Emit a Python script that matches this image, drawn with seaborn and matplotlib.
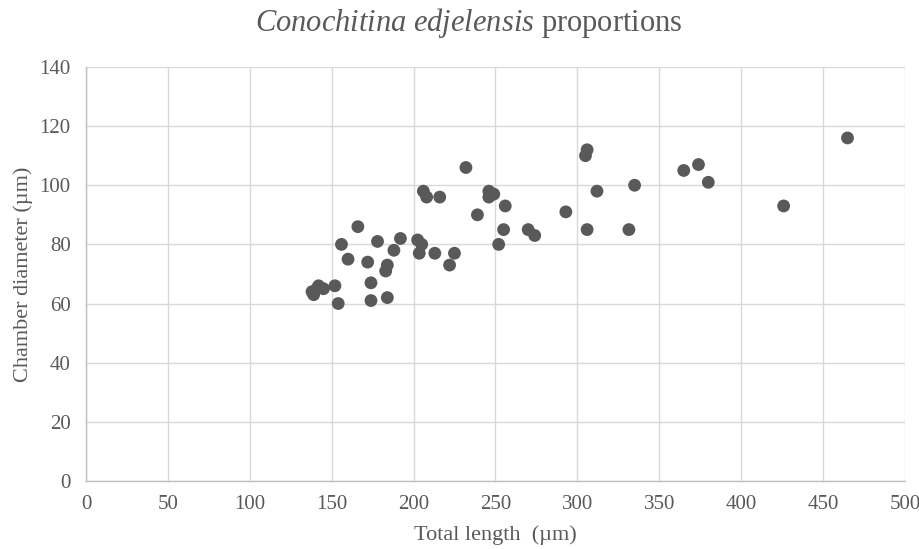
import matplotlib
matplotlib.use("Agg")
import pandas as pd
import matplotlib.pyplot as plt
import seaborn as sns

# Values (µm)
total_length = [138, 139, 142, 145, 141, 152, 154, 156, 160, 166,
                172, 174, 174, 178, 183, 184, 184, 188, 192, 202.5,
                205, 203.5, 206, 208, 213, 216, 222, 225, 232, 239,
                246, 246, 249, 252, 255, 256, 270, 274, 293, 305,
                306, 306, 312, 331.5, 335, 365, 374, 380, 426, 465]
chamber_diam = [64, 63, 66, 65, 65, 66, 60, 80, 75, 86,
                74, 67, 61, 81, 71, 73, 62, 78, 82, 81.5,
                80, 77, 98, 96, 77, 96, 73, 77, 106, 90,
                98, 96, 97, 80, 85, 93, 85, 83, 91, 110,
                112, 85, 98, 85, 100, 105, 107, 101, 93, 116]

df = pd.DataFrame({"length": total_length, "diameter": chamber_diam})

sns.set_theme(style="white")
plt.rcParams['font.family'] = ['Liberation Serif', 'DejaVu Serif']
plt.rcParams['mathtext.fontset'] = 'custom'
plt.rcParams['mathtext.rm'] = 'Liberation Serif'
plt.rcParams['mathtext.it'] = 'Liberation Serif:italic'

fig = plt.figure(figsize=(9.2, 5.49), dpi=100)
ax = fig.add_axes([0.0935, 0.124, 0.890, 0.754])

sns.scatterplot(data=df, x="length", y="diameter", ax=ax,
                color="#595959", s=85, edgecolor="none", zorder=3)

ax.set_xlim(0, 500)
ax.set_ylim(0, 140)
ax.set_xticks(range(0, 501, 50))
ax.set_yticks(range(0, 141, 20))
ax.grid(True, color="#d9d9d9", linewidth=1)
ax.set_axisbelow(True)
for side in ["top", "right"]:
    ax.spines[side].set_visible(False)
for side in ["left", "bottom"]:
    ax.spines[side].set_color("#bfbfbf")
    ax.spines[side].set_linewidth(1)
ax.tick_params(axis="both", length=0, labelsize=15, labelcolor="#595959")
ax.tick_params(axis="y", pad=11)
ax.tick_params(axis="x", pad=10)

ax.set_xlabel("Total length  (µm)", fontsize=16, color="#595959", labelpad=8)
ax.set_ylabel("Chamber diameter (µm)", fontsize=16, color="#595959", labelpad=5)

fig.text(0.51, 0.958, r"$\it{Conochitina\ edjelensis}$ proportions",
         ha="center", va="center", fontsize=22, color="#595959")

fig.savefig("out.png", dpi=100)
